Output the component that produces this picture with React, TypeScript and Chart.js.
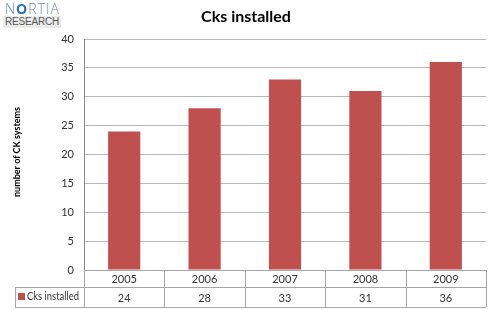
import React, { useEffect, useRef } from "react";
import { Chart, registerables } from "chart.js";

Chart.register(...registerables);

const categories = ["2005", "2006", "2007", "2008", "2009"];
const seriesName = "Cks installed";
const values = [24, 28, 33, 31, 36];
const yTicksMax = 40;
const yStep = 5;
const chartTitle = "Cks installed";
const yTitle = "number of CK systems";

const BAR = "#C0504D";
const FONT = "Lato, 'Open Sans', sans-serif";

const tablePlugin = {
  id: "dataTable",
  afterDraw(chart: any) {
    const ctx = chart.ctx as CanvasRenderingContext2D;
    const area = chart.chartArea;
    const n = categories.length;
    const colW = (area.right - area.left) / n;
    const top = area.bottom;
    const mid = top + 17;
    const bot = top + 37;
    const legendLeft = 15;
    ctx.save();
    ctx.strokeStyle = "#a6a6a6";
    ctx.lineWidth = 1;
    ctx.beginPath();
    ctx.moveTo(area.left, top + 0.5);
    ctx.lineTo(area.right, top + 0.5);
    ctx.moveTo(legendLeft, mid + 0.5);
    ctx.lineTo(area.right, mid + 0.5);
    ctx.moveTo(legendLeft, bot + 0.5);
    ctx.lineTo(area.right, bot + 0.5);
    ctx.moveTo(legendLeft + 0.5, mid);
    ctx.lineTo(legendLeft + 0.5, bot);
    for (let i = 0; i <= n; i++) {
      const x = Math.round(area.left + i * colW) + 0.5;
      ctx.moveTo(x, top);
      ctx.lineTo(x, bot);
    }
    ctx.stroke();

    ctx.fillStyle = "#333";
    ctx.font = `11px ${FONT}`;
    ctx.textAlign = "center";
    ctx.textBaseline = "middle";
    for (let i = 0; i < n; i++) {
      const cx = chart.scales.x.getPixelForValue(i);
      ctx.fillText(categories[i], cx, (top + mid) / 2 + 1);
      ctx.fillText(String(values[i]), cx, (mid + bot) / 2 + 1);
    }
    // legend
    ctx.fillStyle = BAR;
    ctx.fillRect(18, 293, 7, 7);
    ctx.fillStyle = "#333";
    ctx.textAlign = "left";
    ctx.font = `10.5px ${FONT}`;
    ctx.fillText(seriesName, 27, (mid + bot) / 2, 52);

    // title
    ctx.font = `bold 16px ${FONT}`;
    ctx.fillStyle = "#000";
    ctx.textAlign = "center";
    ctx.fillText(chartTitle, 246, 17);

    // y title
    ctx.save();
    ctx.translate(17, 152);
    ctx.rotate(-Math.PI / 2);
    ctx.font = `bold 9px ${FONT}`;
    ctx.fillText(yTitle, 0, 0);
    ctx.restore();
    ctx.restore();
  },
};

export default function App() {
  const ref = useRef<HTMLCanvasElement>(null);
  useEffect(() => {
    document.body.style.margin = "0";
    const chart = new Chart(ref.current!, {
      type: "bar",
      data: {
        labels: categories,
        datasets: [
          {
            label: seriesName,
            data: values,
            backgroundColor: BAR,
            categoryPercentage: 1,
            barPercentage: 0.4,
          },
        ],
      },
      options: {
        responsive: false,
        animation: false,
        layout: { padding: { top: 39, left: 0, right: 4, bottom: 40 } },
        plugins: { legend: { display: false }, title: { display: false }, tooltip: { enabled: false } },
        scales: {
          x: { display: false },
          y: {
            min: 0,
            max: yTicksMax,
            afterFit: (s: any) => {
              s.width = 84;
            },
            ticks: { stepSize: yStep, padding: 10, color: "#333", font: { family: FONT, size: 11 } },
            grid: { color: "#b8b8b8", drawTicks: false },
            border: { color: "#8c8c8c" },
          },
        },
      },
      plugins: [tablePlugin],
    });
    return () => chart.destroy();
  }, []);
  return (
    <div style={{ position: "relative", width: 490, height: 310, background: "#fff" }}>
      <canvas ref={ref} width={490} height={310} style={{ position: "absolute", left: 0, top: 0 }} />
      <div
        style={{
          position: "absolute",
          left: 5,
          top: 2,
          width: 58,
          fontFamily: "'Open Sans', sans-serif",
          fontSize: 14,
          lineHeight: "14px",
          letterSpacing: 1,
          color: "#6f8aa6",
          fontWeight: 300,
          whiteSpace: "nowrap",
        }}
      >
        N<span style={{ color: "#2d6fb5", fontWeight: 700 }}>O</span>RTIA
      </div>
      <div
        style={{
          position: "absolute",
          left: 3,
          top: 16,
          width: 58,
          height: 12,
          background: "#ebebeb",
          fontFamily: "'Liberation Sans', sans-serif",
          fontSize: 10,
          lineHeight: "12px",
          letterSpacing: -0.2,
          color: "#555",
          textAlign: "center",
          whiteSpace: "nowrap",
        }}
      >
        RESEARCH
      </div>
    </div>
  );
}
